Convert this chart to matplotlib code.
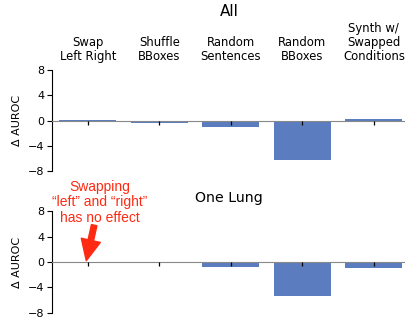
import numpy as np
import matplotlib
matplotlib.use("Agg")
import matplotlib.pyplot as plt

conditions = ["Swap\nLeft Right", "Shuffle\nBBoxes", "Random\nSentences",
              "Random\nBBoxes", "Synth w/\nSwapped\nConditions"]
delta_all = [0.05, -0.4, -1.0, -6.3, 0.2]
delta_one_lung = [-0.2, -0.2, -0.75, -5.4, -0.9]
yticks = [8, 4, 0, -4, -8]

bar_color = "#5b7dbf"
note_color = "#ff2a12"

matplotlib.rcParams.update({"font.size": 8, "font.family": "DejaVu Sans"})

fig = plt.figure(figsize=(4.06, 3.24), dpi=100)
ax_all = fig.add_axes([0.128, 0.472, 0.872, 0.312])
ax_one = fig.add_axes([0.128, 0.035, 0.872, 0.313])

x = np.arange(len(conditions))
for ax, vals in [(ax_all, delta_all), (ax_one, delta_one_lung)]:
    ax.bar(x, vals, width=0.8, color=bar_color, zorder=2)
    ax.axhline(0, color="#888888", lw=0.8, zorder=3)
    ax.set_xlim(-0.5, 4.45)
    ax.set_ylim(-8, 8)
    ax.set_yticks(yticks)
    ax.set_yticklabels([str(t).replace("-", "\u2212") for t in yticks])
    ax.set_ylabel("\u0394 AUROC", labelpad=4)
    ax.spines["top"].set_visible(False)
    ax.spines["right"].set_visible(False)
    ax.spines["bottom"].set_visible(False)
    ax.set_xticks(x)
    ax.tick_params(axis="x", bottom=False, top=False, labelbottom=False)
    ax.tick_params(axis="y", length=3.5, width=0.8, pad=2)
    # small tick marks hanging below the zero line at each bar
    for xi in x:
        ax.plot([xi, xi], [0, -0.7], color="black", lw=0.9, zorder=4,
                solid_capstyle="butt")

ax_all.tick_params(axis="x", labeltop=True, pad=1.8, labelsize=8.4)
ax_all.set_xticklabels(conditions, linespacing=1.08)

fig.text(0.564, 0.963, "All", ha="center", va="center", fontsize=11)
fig.text(0.564, 0.389, "One Lung", ha="center", va="center", fontsize=10.2)

ax_one.text(0.17, 9.4, "Swapping\n\u201cleft\u201d and \u201cright\u201d\nhas no effect",
            ha="center", va="center", color=note_color, fontsize=10,
            family=["Liberation Sans", "DejaVu Sans"], linespacing=1.15,
            clip_on=False)
ax_one.annotate("", xy=(-0.02, 0.2), xytext=(0.09, 5.8),
                arrowprops=dict(arrowstyle="simple,head_width=1.4,head_length=1.5,tail_width=0.4",
                                color=note_color, shrinkA=0, shrinkB=0,
                                mutation_scale=10),
                annotation_clip=False, zorder=5)

fig.savefig("out.png", dpi=100)
